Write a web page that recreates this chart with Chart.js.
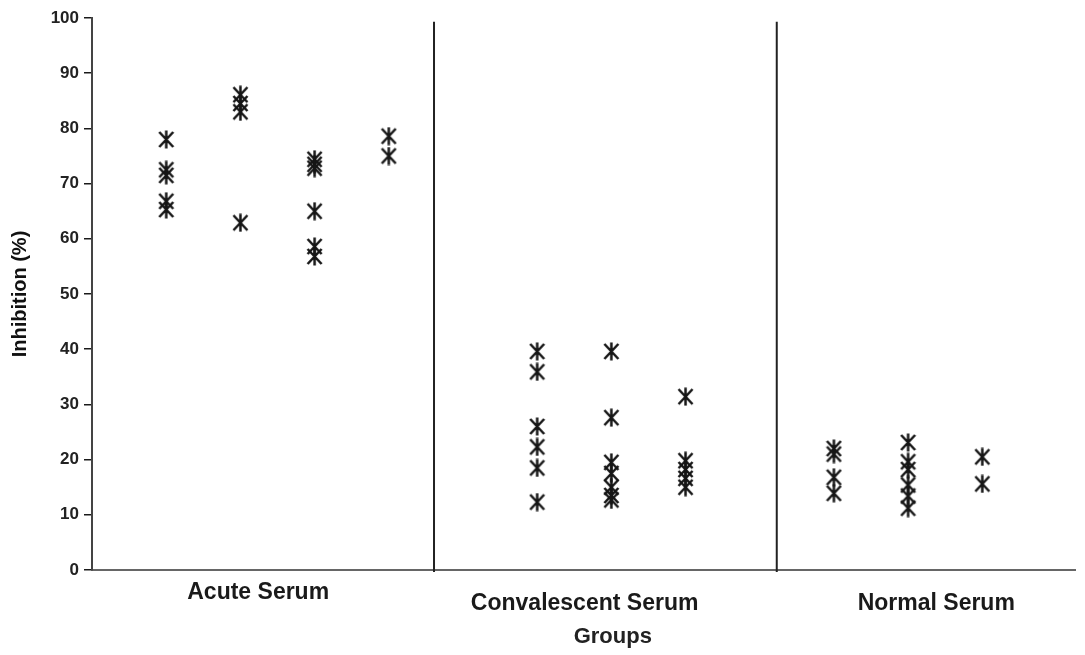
<!DOCTYPE html>
<html>
<head>
<meta charset="utf-8">
<script src="https://cdn.jsdelivr.net/npm/chart.js@4.4.1/dist/chart.umd.min.js"></script>
<style>
  body { margin: 0; background: #fff; }
  #wrap { width: 1085px; height: 655px; position: relative; }
</style>
</head>
<body>
<div id="wrap"><canvas id="myChart"></canvas></div>
<script>
// inhibition (%) per serum sample column
var groupNames = ['Acute Serum', 'Convalescent Serum', 'Normal Serum'];
var groupLabelPos = [2.24, 6.64, 11.38];
var dividerPos = [4.61, 9.23];
var yTicks = [0, 10, 20, 30, 40, 50, 60, 70, 80, 90, 100];

var acuteCols = [1, 2, 3, 4];
var acuteValues = [
    [78, 72.5, 71.5, 66.8, 65.3],
    [86.1, 84.5, 83, 62.9],
    [74.4, 73.5, 72.8, 65, 58.6, 56.8],
    [78.6, 75]
];
var convCols = [6, 7, 8];
var convValues = [
    [39.6, 35.9, 26, 22.3, 18.5, 12.3],
    [39.6, 27.6, 19.5, 17.5, 15, 13.5, 12.7],
    [31.4, 19.8, 18.2, 16.6, 15]
];
var normalCols = [10, 11, 12];
var normalValues = [
    [22, 21, 16.8, 13.9],
    [23.1, 19.6, 18.2, 15.4, 13.4, 11.2],
    [20.5, 15.6]
];

function makeStar() {
    var c = document.createElement('canvas');
    c.width = 17; c.height = 19;
    var g = c.getContext('2d');
    g.strokeStyle = '#161616';
    g.lineWidth = 2.5;
    g.beginPath();
    g.moveTo(1.5, 2); g.lineTo(15.5, 17);
    g.moveTo(15.5, 2); g.lineTo(1.5, 17);
    g.moveTo(8.5, 0.5); g.lineTo(8.5, 18.5);
    g.stroke();
    return c;
}
var star = makeStar();

function toPoints(cols, values) {
    var pts = [];
    for (var i = 0; i < cols.length; i++) {
        for (var j = 0; j < values[i].length; j++) {
            pts.push({x: cols[i], y: values[i][j]});
        }
    }
    return pts;
}

function makeSet(name, cols, values) {
    return {
        label: name,
        data: toPoints(cols, values),
        pointStyle: star,
        pointRadius: 9,
        showLine: false
    };
}

// separator lines between groups + the "Groups" axis title
var groupLines = {
    id: 'groupLines',
    afterDatasetsDraw: function(chart) {
        var ctx = chart.ctx, xs = chart.scales.x, ys = chart.scales.y;
        ctx.save();
        ctx.strokeStyle = '#222';
        ctx.lineWidth = 2;
        for (var i = 0; i < dividerPos.length; i++) {
            var px = xs.getPixelForValue(dividerPos[i]);
            ctx.beginPath();
            ctx.moveTo(px, ys.getPixelForValue(99.3));
            ctx.lineTo(px, ys.getPixelForValue(0) + 2);
            ctx.stroke();
        }
        ctx.fillStyle = '#222';
        ctx.font = 'bold 22px "Liberation Sans", Arial, sans-serif';
        ctx.textAlign = 'center';
        ctx.textBaseline = 'middle';
        ctx.fillText('Groups', xs.getPixelForValue(7.02), 637);
        ctx.restore();
    }
};

var config = {
    type: 'scatter',
    data: {
        datasets: [
            makeSet(groupNames[0], acuteCols, acuteValues),
            makeSet(groupNames[1], convCols, convValues),
            makeSet(groupNames[2], normalCols, normalValues)
        ]
    },
    options: {
        responsive: true,
        maintainAspectRatio: false,
        animation: false,
        layout: { padding: { top: 18, right: 10, left: 0, bottom: 0 } },
        plugins: {
            legend: { display: false },
            tooltip: { enabled: false }
        },
        scales: {
            x: {
                type: 'linear',
                min: 0,
                max: 13.25,
                afterFit: function(s) { s.height = 85; },
                afterBuildTicks: function(s) {
                    s.ticks = groupLabelPos.map(function(v) { return {value: v}; });
                },
                grid: { display: false, drawTicks: false },
                border: { display: true, color: '#666', width: 2 },
                ticks: {
                    autoSkip: false,
                    maxRotation: 0,
                    padding: 17,
                    color: '#1a1a1a',
                    font: { family: '"Liberation Sans", Arial, sans-serif', size: 23, weight: 'bold', lineHeight: '11px' },
                    callback: function(v, i) {
                        return i === 0 ? groupNames[0] : ['', groupNames[i]];
                    }
                },
                title: { display: false }
            },
            y: {
                min: 0,
                max: 100,
                afterFit: function(s) { s.width = 92; },
                afterBuildTicks: function(s) {
                    s.ticks = yTicks.map(function(v) { return {value: v}; });
                },
                grid: { drawOnChartArea: false, drawTicks: true, tickLength: 8, color: '#1a1a1a', lineWidth: 1.5 },
                border: { display: true, color: '#444', width: 2 },
                ticks: {
                    padding: 5,
                    color: '#222',
                    font: { family: '"Liberation Sans", Arial, sans-serif', size: 17, weight: 'bold' }
                },
                title: {
                    display: true,
                    text: 'Inhibition (%)',
                    color: '#111',
                    padding: { top: 8, bottom: 0 },
                    font: { family: '"Liberation Sans", Arial, sans-serif', size: 20, weight: 'bold' }
                }
            }
        }
    },
    plugins: [groupLines]
};

window.onload = function() {
    var ctx = document.getElementById('myChart').getContext('2d');
    window.myScatter = new Chart(ctx, config);
};
</script>
</body>
</html>
